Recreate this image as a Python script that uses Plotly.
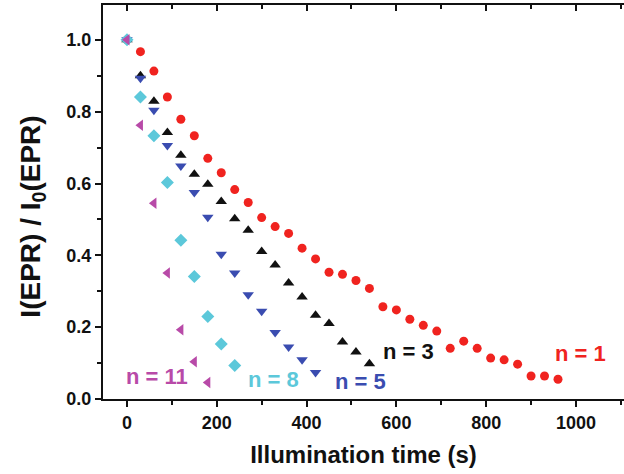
import plotly.graph_objects as go

# ---- data ----
t_n1 = [0, 30, 60, 90, 120, 150, 180, 210, 240, 270, 300, 330, 360, 390, 420, 450, 480,
        510, 540, 570, 600, 630, 660, 690, 720, 750, 780, 810, 840, 870, 900, 930, 960]
y_n1 = [1.00, 0.967, 0.913, 0.841, 0.779, 0.733, 0.670, 0.630, 0.583, 0.547, 0.505, 0.480,
        0.461, 0.420, 0.390, 0.353, 0.347, 0.330, 0.308, 0.257, 0.248, 0.222, 0.205, 0.189,
        0.141, 0.161, 0.141, 0.114, 0.109, 0.097, 0.064, 0.064, 0.055]

t_n3 = [0, 30, 60, 90, 120, 150, 180, 210, 240, 270, 300, 330, 360, 390, 420, 450, 480, 510, 540]
y_n3 = [1.00, 0.900, 0.829, 0.742, 0.679, 0.626, 0.598, 0.550, 0.502, 0.470, 0.411, 0.373,
        0.323, 0.284, 0.233, 0.210, 0.159, 0.131, 0.098]

t_n5 = [0, 30, 60, 90, 120, 150, 180, 210, 240, 270, 300, 330, 360, 390, 420]
y_n5 = [1.00, 0.893, 0.804, 0.706, 0.649, 0.575, 0.506, 0.403, 0.351, 0.290, 0.244, 0.185,
        0.145, 0.109, 0.074]

t_n8 = [0, 30, 60, 90, 120, 150, 180, 210, 240]
y_n8 = [1.00, 0.841, 0.733, 0.603, 0.442, 0.341, 0.230, 0.153, 0.093]

t_n11 = [0, 30, 60, 90, 120, 150, 180]
y_n11 = [1.00, 0.762, 0.545, 0.351, 0.193, 0.104, 0.046]

series_labels = ["n = 1", "n = 3", "n = 5", "n = 8", "n = 11"]
label_x = [1011, 628, 519, 327, 66]
label_y = [0.128, 0.132, 0.048, 0.053, 0.062]

x_tickvals = [0, 200, 400, 600, 800, 1000]
y_tickvals = [0.0, 0.2, 0.4, 0.6, 0.8, 1.0]

# ---- styles ----
FONT = "Liberation Sans, Arial, Helvetica, sans-serif"
colors = ["#f0231f", "#111111", "#3a4cb0", "#5cc8da", "#b84aa8"]
symbols = ["circle", "triangle-up", "triangle-down", "diamond", "triangle-left"]
sizes = [9, 10, 10, 10, 10]

fig = go.Figure()
all_t = [t_n1, t_n3, t_n5, t_n8, t_n11]
all_y = [y_n1, y_n3, y_n5, y_n8, y_n11]
for i in range(5):
    fig.add_trace(go.Scatter(
        x=all_t[i], y=all_y[i], mode="markers", name=series_labels[i],
        marker=dict(symbol=symbols[i], size=sizes[i], color=colors[i], line=dict(width=0)),
        showlegend=False, cliponaxis=False))

# invisible trace to carry the top (mirror) axis
fig.add_trace(go.Scatter(x=t_n1, y=y_n1, xaxis="x2", mode="markers",
                         marker=dict(opacity=0), hoverinfo="skip", showlegend=False))

for i in range(5):
    fig.add_annotation(x=label_x[i], y=label_y[i], xref="x", yref="y", text=series_labels[i],
                       showarrow=False, font=dict(family=FONT, size=22, color=colors[i], weight="bold"))

fig.add_annotation(x=-0.135, y=0.462, xref="paper", yref="paper", textangle=-90,
                   xanchor="center", yanchor="middle",
                   text="I(EPR) / I<sub>0</sub>(EPR)", showarrow=False,
                   font=dict(family=FONT, size=28, color="#111", weight="bold"))

XR = [-53.4, 1107]
fig.update_layout(
    width=624, height=474,
    margin=dict(l=103, r=0, t=5, b=75, autoexpand=False),
    paper_bgcolor="white", plot_bgcolor="white",
    font=dict(family=FONT, color="#111"),
    xaxis=dict(range=XR, tickvals=x_tickvals, ticks="outside", ticklen=6, tickwidth=2,
               tickcolor="#111", showline=True, linewidth=2, linecolor="#111",
               showgrid=False, zeroline=False, automargin=False,
               minor=dict(dtick=100, tick0=0, ticks="outside", ticklen=4, tickwidth=2, tickcolor="#111"),
               tickfont=dict(family=FONT, size=18, color="#111", weight="bold"),
               title=dict(text="Illumination time (s)", standoff=15,
                          font=dict(family=FONT, size=24, color="#111", weight="bold"))),
    xaxis2=dict(range=XR, overlaying="x", side="top", tickvals=x_tickvals, ticks="inside",
                ticklen=6, tickwidth=2, tickcolor="#111", showline=True, linewidth=2,
                linecolor="#111", showticklabels=False, showgrid=False, zeroline=False,
                automargin=False,
                minor=dict(dtick=100, tick0=0, ticks="inside", ticklen=4, tickwidth=2, tickcolor="#111")),
    yaxis=dict(range=[0, 1.097], tickvals=y_tickvals, tickformat=".1f", ticks="outside",
               ticklen=6, tickwidth=2, tickcolor="#111", showline=True, linewidth=2,
               linecolor="#111", showgrid=False, zeroline=False, automargin=False,
               minor=dict(dtick=0.1, tick0=0, ticks="outside", ticklen=4, tickwidth=2, tickcolor="#111")),
)
fig.update_yaxes(tickfont=dict(family=FONT, size=18, color="#111", weight="bold"))

fig.write_html("out.html", config={"displayModeBar": False},
               post_script="document.body.style.margin='0';")
